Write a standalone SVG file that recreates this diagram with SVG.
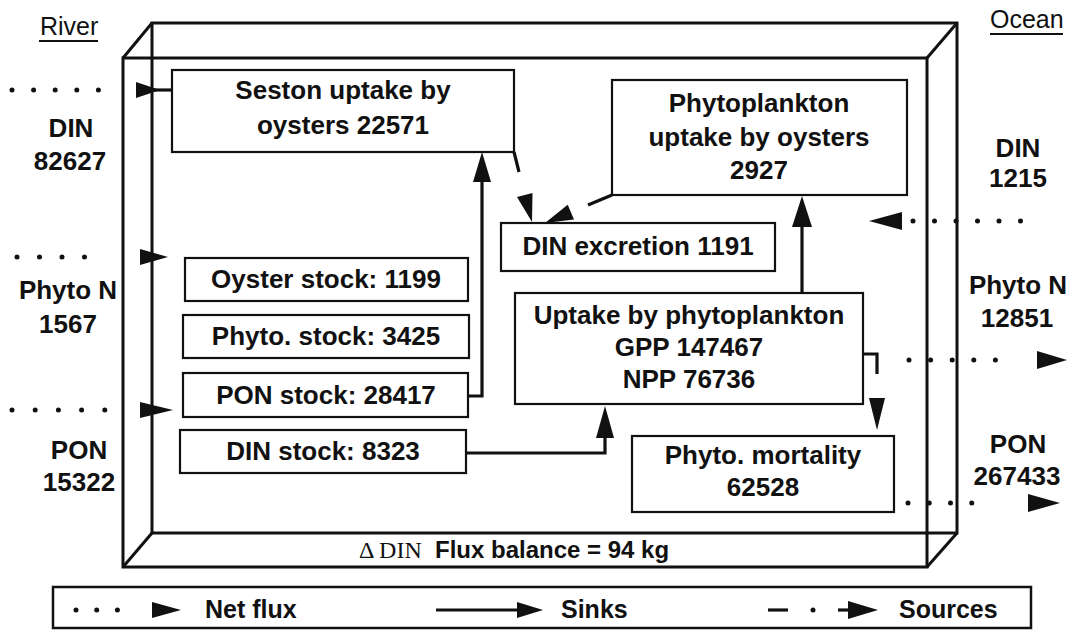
<svg xmlns="http://www.w3.org/2000/svg" width="1074" height="630" viewBox="0 0 1074 630">
<style>
  .bg { fill: #ffffff; }
  .frame { fill: none; stroke: #111; stroke-width: 3; }
  .node rect { fill: #fff; stroke: #111; stroke-width: 2.2; }
  .t { font-family: "Liberation Sans", Arial, sans-serif; font-size: 26px; font-weight: bold; fill: #111; text-anchor: middle; }
  .lbl { font-family: "Liberation Sans", Arial, sans-serif; font-size: 26px; font-weight: bold; fill: #111; text-anchor: middle; }
  .side { font-family: "Liberation Sans", Arial, sans-serif; font-size: 25px; fill: #111; }
  .leg { font-family: "Liberation Sans", Arial, sans-serif; font-size: 25px; font-weight: bold; fill: #111; }
  .sink { fill: none; stroke: #111; stroke-width: 3.2; }
  .src { fill: none; stroke: #111; stroke-width: 3.2; }
  .dots { fill: none; stroke: #111; stroke-width: 5; stroke-linecap: round; }
  .head { fill: #111; stroke: none; }
  .ul { stroke: #111; stroke-width: 2; }
</style>
<rect class="bg" x="0" y="0" width="1074" height="630"/>

<g id="box-frame">
  <rect class="frame" x="152" y="23" width="805" height="510"/>
  <rect class="frame" x="123" y="58" width="804" height="509"/>
  <line class="frame" x1="123" y1="58" x2="152" y2="23"/>
  <line class="frame" x1="927" y1="58" x2="957" y2="23"/>
  <line class="frame" x1="123" y1="567" x2="152" y2="533"/>
  <line class="frame" x1="927" y1="567" x2="957" y2="533"/>
</g>

<g id="headers">
  <text class="side" x="40" y="35">River</text>
  <line class="ul" x1="39" y1="41" x2="98" y2="41"/>
  <text class="side" x="990" y="28">Ocean</text>
  <line class="ul" x1="990" y1="34" x2="1063" y2="34"/>
</g>

<g id="flux-labels">
  <text class="lbl" x="71" y="137">DIN</text>
  <text class="lbl" x="70" y="170">82627</text>
  <text class="lbl" x="68" y="299">Phyto N</text>
  <text class="lbl" x="68" y="333">1567</text>
  <text class="lbl" x="79" y="459">PON</text>
  <text class="lbl" x="79" y="491">15322</text>
  <text class="lbl" x="1018" y="157">DIN</text>
  <text class="lbl" x="1018" y="187">1215</text>
  <text class="lbl" x="1018" y="294">Phyto N</text>
  <text class="lbl" x="1017" y="327">12851</text>
  <text class="lbl" x="1018" y="453">PON</text>
  <text class="lbl" x="1017" y="485">267433</text>
</g>

<g id="node-seston" class="node">
  <rect x="172" y="70" width="342" height="82"/>
  <text class="t" x="343" y="99">Seston uptake by</text>
  <text class="t" x="343" y="134">oysters 22571</text>
</g>
<g id="node-phyto-uptake-oysters" class="node">
  <rect x="612" y="80" width="295" height="115"/>
  <text class="t" x="759" y="112">Phytoplankton</text>
  <text class="t" x="759" y="146">uptake by oysters</text>
  <text class="t" x="759" y="179">2927</text>
</g>
<g id="node-din-excretion" class="node">
  <rect x="501" y="223" width="274" height="48"/>
  <text class="t" x="638" y="255">DIN excretion 1191</text>
</g>
<g id="node-oyster-stock" class="node">
  <rect x="185" y="258" width="283" height="43"/>
  <text class="t" x="326" y="288">Oyster stock: 1199</text>
</g>
<g id="node-phyto-stock" class="node">
  <rect x="183" y="315" width="286" height="43"/>
  <text class="t" x="326" y="345">Phyto. stock: 3425</text>
</g>
<g id="node-pon-stock" class="node">
  <rect x="183" y="373" width="285" height="44"/>
  <text class="t" x="326" y="404">PON stock: 28417</text>
</g>
<g id="node-din-stock" class="node">
  <rect x="180" y="430" width="286" height="43"/>
  <text class="t" x="323" y="460">DIN stock: 8323</text>
</g>
<g id="node-uptake-phyto" class="node">
  <rect x="515" y="293" width="348" height="111"/>
  <text class="t" x="689" y="324">Uptake by phytoplankton</text>
  <text class="t" x="689" y="356">GPP 147467</text>
  <text class="t" x="689" y="388">NPP 76736</text>
</g>
<g id="node-mortality" class="node">
  <rect x="632" y="436" width="262" height="76"/>
  <text class="t" x="763" y="464">Phyto. mortality</text>
  <text class="t" x="763" y="496">62528</text>
</g>

<g id="connectors">
  <!-- River net fluxes -->
  <line class="dots" x1="12" y1="90" x2="120" y2="90" stroke-dasharray="0 21.6"/>
  <line class="sink" x1="140" y1="90" x2="172" y2="90"/>
  <polygon class="head" points="136,82 160,90 136,98"/>
  <line class="dots" x1="17" y1="257" x2="107" y2="257" stroke-dasharray="0 22.5"/>
  <polygon class="head" points="140,249 168,257 140,265"/>
  <line class="dots" x1="12" y1="410" x2="105" y2="410" stroke-dasharray="0 23.2"/>
  <polygon class="head" points="140,402 173,410 140,418"/>
  <!-- Ocean net fluxes -->
  <line class="dots" x1="913" y1="221" x2="1042" y2="221" stroke-dasharray="0 21.5"/>
  <polygon class="head" points="869,221 902,212 902,230"/>
  <line class="dots" x1="909" y1="360" x2="1017" y2="360" stroke-dasharray="0 21.6"/>
  <polygon class="head" points="1037,351 1067,360 1037,369"/>
  <line class="dots" x1="908" y1="503" x2="993" y2="503" stroke-dasharray="0 21.25"/>
  <polygon class="head" points="1028,494 1060,503 1028,512"/>
  <!-- Sinks -->
  <polyline class="sink" points="468,396 482,396 482,180"/>
  <polygon class="head" points="473,182 482,152 491,182"/>
  <polyline class="sink" points="466,453 605,453 605,436"/>
  <polygon class="head" points="596,438 605,406 614,438"/>
  <line class="sink" x1="802" y1="293" x2="802" y2="225"/>
  <polygon class="head" points="792,227 802,196 812,227"/>
  <!-- Sources -->
  <line class="src" x1="514" y1="152" x2="519" y2="172"/>
  <polygon class="head" points="517,197 532.5,193 532,222"/>
  <line class="src" x1="612" y1="195" x2="588" y2="205"/>
  <polygon class="head" points="574,219.6 567.7,204.8 545,223"/>
  <polyline class="src" points="863,354 877,354 877,374"/>
  <polygon class="head" points="869,398 885,398 877,430"/>
</g>

<g id="balance">
  <text x="359" y="558" font-family="Liberation Sans, Arial, sans-serif" font-size="24" font-weight="bold" fill="#111"><tspan font-family="Liberation Serif, Times New Roman, serif" font-weight="normal">Δ DIN</tspan><tspan x="435">Flux balance = 94 kg</tspan></text>
</g>

<g id="legend">
  <rect x="53" y="587" width="978" height="41" fill="none" stroke="#111" stroke-width="2.5"/>
  <line class="dots" x1="76" y1="610" x2="138" y2="610" stroke-dasharray="0 20.7" stroke-width="4.5"/>
  <polygon class="head" points="152,602 181,610 152,618"/>
  <text class="leg" x="205" y="618">Net flux</text>
  <line class="sink" x1="436" y1="610" x2="522" y2="610"/>
  <polygon class="head" points="517,602 543,610 517,618"/>
  <text class="leg" x="561" y="618">Sinks</text>
  <line class="sink" x1="768" y1="610" x2="788" y2="610" stroke-width="4.5"/>
  <circle cx="813" cy="610" r="2.5" fill="#111"/>
  <line class="sink" x1="838" y1="610" x2="852" y2="610"/>
  <polygon class="head" points="848,601 878,610 848,619"/>
  <text class="leg" x="899" y="618">Sources</text>
</g>
</svg>
